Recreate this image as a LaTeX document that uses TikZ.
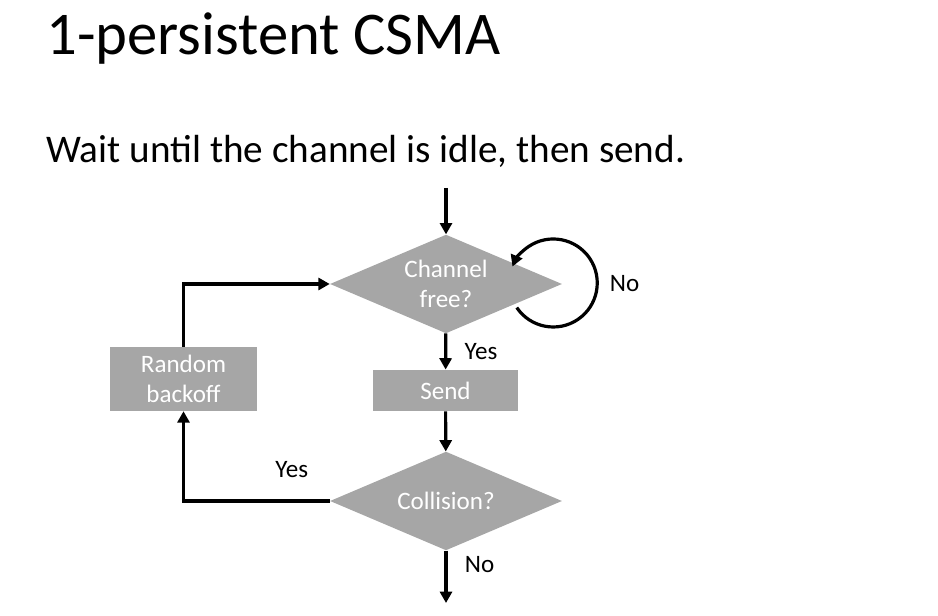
\documentclass[tikz,border=0pt]{standalone}
\usepackage{fontspec}
\setmainfont{Carlito}
\usetikzlibrary{shapes.geometric,arrows.meta,positioning}
\definecolor{shapegray}{HTML}{A6A6A6}

\tikzset{
	flow/.style={line width=2.4pt, -{Triangle[length=8.5pt,width=9pt]}},
	decision/.style={diamond, fill=shapegray, text=white, inner sep=0pt, aspect=2.37,
		minimum width=174pt, minimum height=74pt, align=center, font=\fontsize{18.8}{22}\selectfont},
	stepbox/.style={rectangle, fill=shapegray, text=white, inner sep=0pt,
		minimum width=109pt, minimum height=31pt, align=center, font=\fontsize{18.8}{22}\selectfont},
	answer/.style={font=\fontsize{18.8}{22}\selectfont, inner sep=0pt}
}

\begin{document}
\begin{tikzpicture}[x=0.75pt, y=0.75pt]
			\useasboundingbox (0,0) rectangle (938,616);

			\node[anchor=base west, inner sep=0pt, font=\fontsize{45.5}{50}\selectfont] (title) at (46, 561) {1-persistent CSMA};
			\node[anchor=base west, inner sep=0pt, font=\fontsize{29.4}{34}\selectfont] (subtitle) at (46, 453) {Wait until the channel is idle, then send.};

			\node[decision] (chan) at (446, 332) {Channel\\free?};
			\node[stepbox] (send) at (445.5, 225.5) {Send};
			\node[decision] (coll) at (446, 115) {Collision?};
			\node[stepbox, minimum width=110pt, minimum height=48pt] (backoff) at (183.5, 237) {Random\\backoff};

			\coordinate (entry) at (446, 428);
			\coordinate (exit) at (446, 13);

			\draw[flow] (entry) -- (chan);
			\draw[flow] (chan) -- node[answer, right=13pt] {Yes} (send);
			\draw[flow] (send) -- (coll);
			\draw[flow] (coll) -- node[answer, right=13pt, pos=0.27] {No} (exit);
			\draw[flow] (coll.west) -| node[answer, above=16pt, pos=0.13] {Yes} (backoff);
			\draw[flow] (backoff) |- (chan);

			% wait loop
			\draw[flow] (chan.east) ++(-45.5,-23.6) arc[start angle=-146, end angle=158, radius=33pt];
			\node[answer] (loopno) at (624.5, 332) {No};
		\end{tikzpicture}
\end{document}
